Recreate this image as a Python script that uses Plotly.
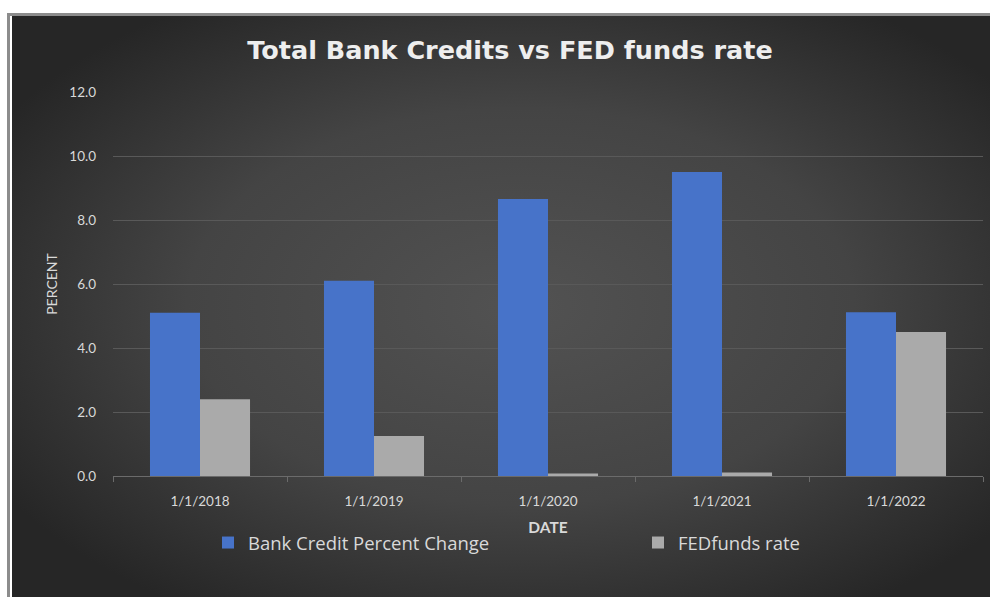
import base64
import plotly.graph_objects as go

# Data
dates = ["1/1/2018", "1/1/2019", "1/1/2020", "1/1/2021", "1/1/2022"]
bank_credit_pct = [5.1, 6.1, 8.66, 9.5, 5.12]
fed_funds_rate = [2.4, 1.25, 0.08, 0.11, 4.5]

W, H = 990, 597
L, R, T, B = 113, 7, 92, 121
plot_w = W - L - R
plot_h = H - T - B


def px_x(px):
    return (px - L) / plot_w


def px_y(py):
    return (H - B - py) / plot_h


# Dark radial-gradient backdrop for the chart card
svg = (
    '<svg xmlns="http://www.w3.org/2000/svg" width="1000" height="600" '
    'viewBox="0 0 1000 600" preserveAspectRatio="none">'
    '<defs><radialGradient id="g" cx="52%" cy="50%" r="62%">'
    '<stop offset="0%" stop-color="#525252"/>'
    '<stop offset="55%" stop-color="#444444"/>'
    '<stop offset="100%" stop-color="#262626"/>'
    '</radialGradient></defs>'
    '<rect width="1000" height="600" fill="url(#g)"/></svg>'
)
bg_uri = "data:image/svg+xml;base64," + base64.b64encode(svg.encode()).decode()

fig = go.Figure()
fig.add_trace(go.Bar(
    x=dates, y=bank_credit_pct, name="Bank Credit Percent Change",
    marker=dict(color="#4773c9", line=dict(width=0)),
    legend="legend",
))
fig.add_trace(go.Bar(
    x=dates, y=fed_funds_rate, name="FEDfunds rate",
    marker=dict(color="#aaaaaa", line=dict(width=0)),
    legend="legend2",
))

font_family = "Lato, 'Open Sans', sans-serif"
legend_font = dict(size=18.5, color="#d9d9d9", family="'Open Sans', sans-serif")

fig.update_layout(
    width=W, height=H,
    margin=dict(l=L, r=R, t=T, b=B, pad=0),
    paper_bgcolor="white",
    plot_bgcolor="rgba(0,0,0,0)",
    barmode="group", bargap=0.425, bargroupgap=0,
    font=dict(family=font_family, color="#d9d9d9"),
    title=dict(
        text="<b>Total Bank Credits vs FED funds rate</b>",
        x=510 / W, xanchor="center", xref="container",
        y=1 - 50 / H, yanchor="middle", yref="container",
        font=dict(size=25.5, color="#eeeeee", family="'DejaVu Sans', sans-serif"),
    ),
    showlegend=True,
    legend=dict(
        orientation="h", x=px_x(208), xanchor="left",
        y=px_y(543), yanchor="middle",
        bgcolor="rgba(0,0,0,0)", font=legend_font,
    ),
    legend2=dict(
        orientation="h", x=px_x(638), xanchor="left",
        y=px_y(543), yanchor="middle",
        bgcolor="rgba(0,0,0,0)", font=legend_font,
    ),
    hovermode=False,
    images=[dict(
        source=bg_uri, xref="paper", yref="paper",
        x=px_x(12), y=px_y(16), sizex=px_x(W) - px_x(12),
        sizey=px_y(16) - px_y(H), sizing="stretch",
        xanchor="left", yanchor="top", layer="below",
    )],
    shapes=[
        dict(type="line", xref="paper", yref="paper",
             x0=px_x(7), x1=px_x(W), y0=px_y(14.5), y1=px_y(14.5),
             line=dict(color="#8c8c8c", width=3)),
        dict(type="line", xref="paper", yref="paper",
             x0=px_x(8.5), x1=px_x(8.5), y0=px_y(13), y1=px_y(H),
             line=dict(color="#8c8c8c", width=3)),
    ],
)

fig.update_xaxes(
    type="category",
    showgrid=False,
    showline=True, linecolor="#6b6b6b", linewidth=1,
    ticks="outside", tickson="boundaries", ticklen=5, tickcolor="#6b6b6b",
    ticklabelstandoff=13,
    tickfont=dict(size=13.5, color="#d9d9d9"),
    title=dict(text="<b>DATE</b>", font=dict(size=15.5, color="#d9d9d9"), standoff=13),
    zeroline=False,
)
fig.update_yaxes(
    range=[0, 12], dtick=2, tickformat=".1f",
    showgrid=True, gridcolor="#595959", gridwidth=1,
    zeroline=False, showline=False,
    ticks="", ticklabelstandoff=16,
    tickfont=dict(size=13.5, color="#d9d9d9"),
    title=dict(text="PERCENT", font=dict(size=14, color="#d9d9d9"), standoff=8),
)

fig.write_html("out.html")
